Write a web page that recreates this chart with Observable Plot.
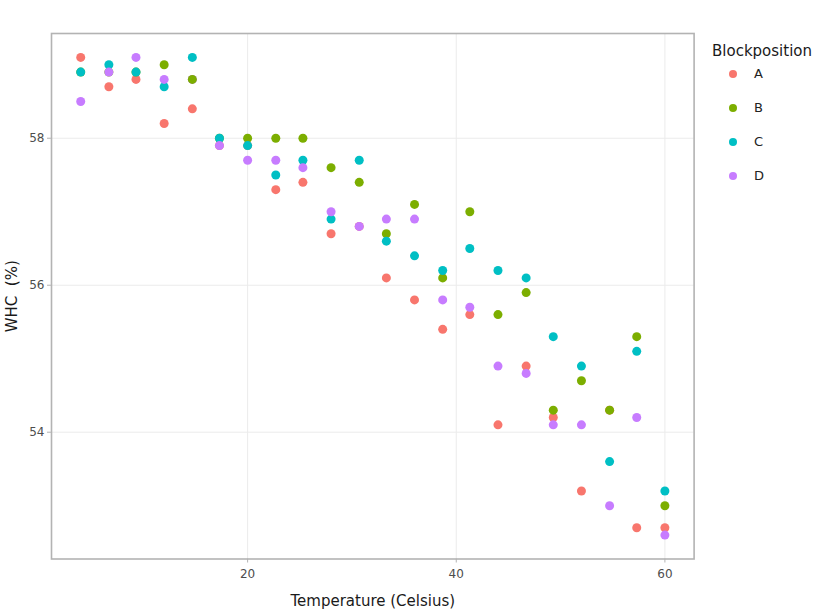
<!DOCTYPE html>
<html>
<head>
<meta charset="utf-8">
<script src="https://cdn.jsdelivr.net/npm/d3@7"></script>
<script src="https://cdn.jsdelivr.net/npm/@observablehq/plot@0.6"></script>
<style>
  body { margin: 0; background: #fff; font-family: "DejaVu Sans", sans-serif; }
  #wrap { position: relative; width: 837px; height: 609px; }
  #legend { position: absolute; left: 712px; top: 40px; color: #1a1a1a; }
  #legend .title { font-size: 15px; line-height: 22px; }
  #legend .item { position: absolute; left: 0; font-size: 13px; color: #222; white-space: nowrap; }
  #legend .sw { position: absolute; width: 8px; height: 8px; border-radius: 50%; }
</style>
</head>
<body>
<div id="wrap"></div>
<script>
const temperature = [4, 6.7, 9.3, 12, 14.7, 17.3, 20, 22.7, 25.3, 28, 30.7, 33.3, 36, 38.7, 41.3, 44, 46.7, 49.3, 52, 54.7, 57.3, 60];
const blockA = [59.1, 58.7, 58.8, 58.2, 58.4, 57.9, 57.9, 57.3, 57.4, 56.7, 56.8, 56.1, 55.8, 55.4, 55.6, 54.1, 54.9, 54.2, 53.2, 54.3, 52.7, 52.7];
const blockB = [58.9, 58.9, 58.9, 59.0, 58.8, 58.0, 58.0, 58.0, 58.0, 57.6, 57.4, 56.7, 57.1, 56.1, 57.0, 55.6, 55.9, 54.3, 54.7, 54.3, 55.3, 53.0];
const blockC = [58.9, 59.0, 58.9, 58.7, 59.1, 58.0, 57.9, 57.5, 57.7, 56.9, 57.7, 56.6, 56.4, 56.2, 56.5, 56.2, 56.1, 55.3, 54.9, 53.6, 55.1, 53.2];
const blockD = [58.5, 58.9, 59.1, 58.8, 58.8, 57.9, 57.7, 57.7, 57.6, 57.0, 56.8, 56.9, 56.9, 55.8, 55.7, 54.9, 54.8, 54.1, 54.1, 53.0, 54.2, 52.6];
const blocks = ["A", "B", "C", "D"];
const colors = ["#F8766D", "#7CAE00", "#00BFC4", "#C77CFF"];
const xTicks = [20, 40, 60];
const yTicks = [54, 56, 58];
// points hidden beneath others in the original (drawn first)
const drawnFirst = [["D", 14.7]];

const series = {A: blockA, B: blockB, C: blockC, D: blockD};
const data = [];
for (const b of blocks) {
  temperature.forEach((t, i) => data.push({temperature: t, whc: series[b][i], block: b}));
}
const isFirst = d => drawnFirst.some(([b, t]) => b === d.block && t === d.temperature);
const ordered = data.filter(isFirst).concat(data.filter(d => !isFirst(d)));

const chart = Plot.plot({
  width: 837,
  height: 609,
  marginLeft: 51,
  marginRight: 143.4,
  marginTop: 33,
  marginBottom: 50.5,
  style: { fontFamily: "DejaVu Sans, sans-serif", background: "#fff" },
  x: { domain: [1.2, 62.8] },
  y: { domain: [52.275, 59.425] },
  color: { domain: blocks, range: colors },
  marks: [
    Plot.gridX(xTicks, { stroke: "#ebebeb", strokeOpacity: 1, strokeWidth: 1 }),
    Plot.gridY(yTicks, { stroke: "#ebebeb", strokeOpacity: 1, strokeWidth: 1 }),
    Plot.frame({ stroke: "#b3b3b3", strokeWidth: 1.6 }),
    Plot.axisX(xTicks, {
      tickSize: 4, tickPadding: 6, stroke: "#b3b3b3", fill: "#4d4d4d", fontSize: 12,
      tickFormat: "d",
      label: "Temperature (Celsius)", labelAnchor: "center", labelArrow: "none", labelOffset: 47
    }),
    Plot.axisY(yTicks, {
      tickSize: 4, tickPadding: 3, stroke: "#b3b3b3", fill: "#4d4d4d", fontSize: 12,
      tickFormat: "d",
      label: "WHC  (%)", labelAnchor: "center", labelArrow: "none", labelOffset: 45
    }),
    Plot.dot(ordered, { x: "temperature", y: "whc", fill: "block", r: 4.5, stroke: "none" })
  ]
});
chart.querySelectorAll("g[aria-label='x-axis label'] text, g[aria-label='y-axis label'] text").forEach(t => {
  t.setAttribute("font-size", "15");
  t.setAttribute("fill", "#1a1a1a");
});
document.getElementById("wrap").appendChild(chart);

// legend
const legend = document.createElement("div");
legend.id = "legend";
const title = document.createElement("div");
title.className = "title";
title.textContent = "Blockposition";
legend.appendChild(title);
blocks.forEach((b, i) => {
  const item = document.createElement("div");
  item.className = "item";
  item.style.top = (26 + i * 34) + "px";
  const sw = document.createElement("span");
  sw.className = "sw";
  sw.style.background = colors[i];
  sw.style.left = "17px";
  sw.style.top = "4px";
  item.appendChild(sw);
  const lab = document.createElement("span");
  lab.textContent = b;
  lab.style.position = "absolute";
  lab.style.left = "42px";
  lab.style.top = "0px";
  item.appendChild(lab);
  legend.appendChild(item);
});
document.getElementById("wrap").appendChild(legend);
</script>
</body>
</html>
